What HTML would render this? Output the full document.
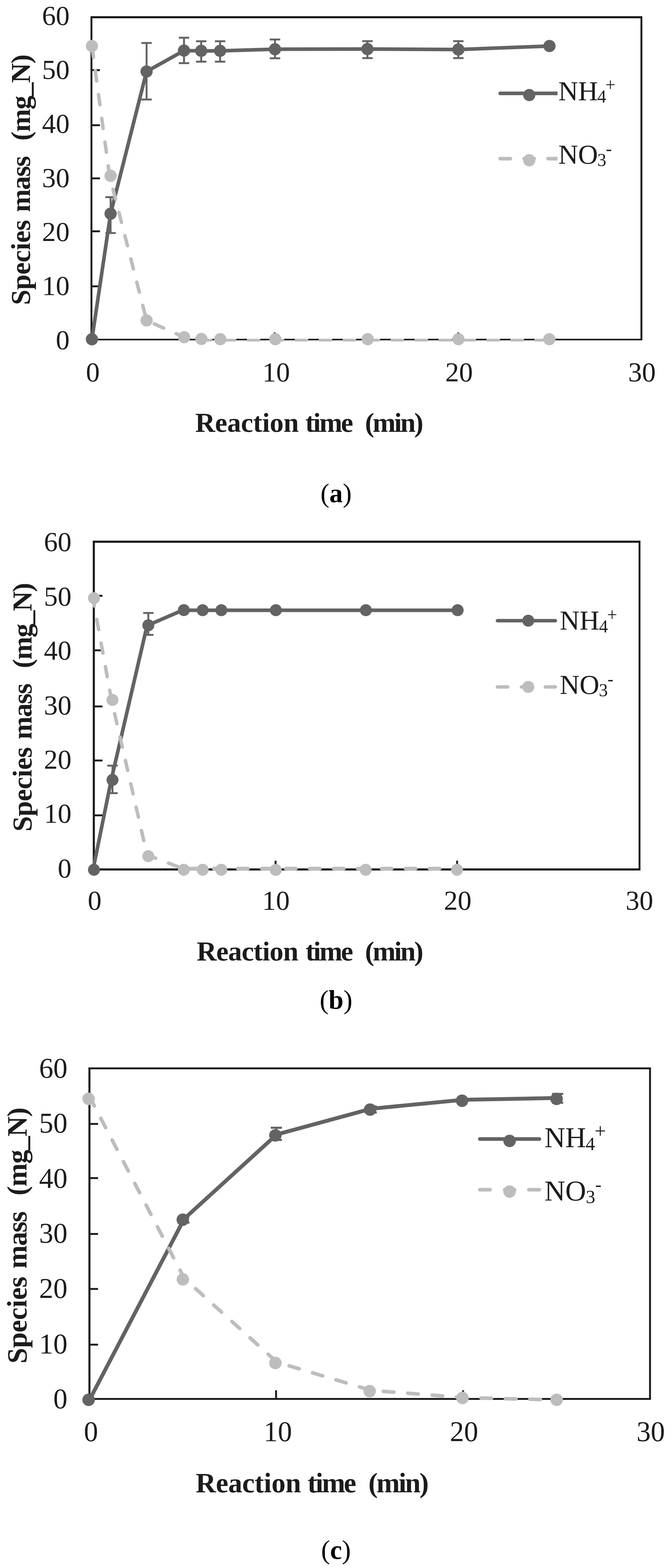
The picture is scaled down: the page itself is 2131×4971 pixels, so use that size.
<!DOCTYPE html>
<html lang="en"><head><meta charset="utf-8"><title>Species mass vs reaction time</title>
<style>html,body{margin:0;padding:0;background:#fff}svg{display:block}text{font-family:"Liberation Serif","DejaVu Serif",serif;white-space:pre}</style></head>
<body>
<svg width="2131" height="4971" viewBox="0 0 2131 4971" role="img" aria-label="Species mass versus reaction time">
<rect width="2131" height="4971" fill="#fff"/>
<g>
<line x1="287" y1="54.6" x2="2037" y2="54.6" stroke="#1c1c1c" stroke-width="6.8" stroke-linecap="butt"/>
<line x1="2034" y1="54.6" x2="2034" y2="1076.4" stroke="#1c1c1c" stroke-width="6" stroke-linecap="butt"/>
<line x1="290" y1="54.6" x2="290" y2="1076.4" stroke="#1c1c1c" stroke-width="6" stroke-linecap="butt"/>
<line x1="287" y1="1076.4" x2="2037" y2="1076.4" stroke="#1c1c1c" stroke-width="5" stroke-linecap="butt"/>
<line x1="290" y1="222.4" x2="317" y2="222.4" stroke="#1c1c1c" stroke-width="6" stroke-linecap="butt"/>
<line x1="290" y1="397" x2="317" y2="397" stroke="#1c1c1c" stroke-width="6" stroke-linecap="butt"/>
<line x1="290" y1="565.5" x2="317" y2="565.5" stroke="#1c1c1c" stroke-width="6" stroke-linecap="butt"/>
<line x1="290" y1="733.3" x2="317" y2="733.3" stroke="#1c1c1c" stroke-width="6" stroke-linecap="butt"/>
<line x1="290" y1="907.7" x2="317" y2="907.7" stroke="#1c1c1c" stroke-width="6" stroke-linecap="butt"/>
<line x1="871" y1="1076.4" x2="871" y2="1054" stroke="#1c1c1c" stroke-width="6" stroke-linecap="butt"/>
<line x1="1453" y1="1076.4" x2="1453" y2="1054" stroke="#1c1c1c" stroke-width="6" stroke-linecap="butt"/>
<text x="220.7" y="79.3" font-size="87.5" font-weight="normal" text-anchor="end" fill="#1c1c1c">60</text>
<text x="220.7" y="250.1" font-size="87.5" font-weight="normal" text-anchor="end" fill="#1c1c1c">50</text>
<text x="220.7" y="421.3" font-size="87.5" font-weight="normal" text-anchor="end" fill="#1c1c1c">40</text>
<text x="220.7" y="593.3" font-size="87.5" font-weight="normal" text-anchor="end" fill="#1c1c1c">30</text>
<text x="220.7" y="763.9" font-size="87.5" font-weight="normal" text-anchor="end" fill="#1c1c1c">20</text>
<text x="220.7" y="935.1" font-size="87.5" font-weight="normal" text-anchor="end" fill="#1c1c1c">10</text>
<text x="220.7" y="1106.9" font-size="87.5" font-weight="normal" text-anchor="end" fill="#1c1c1c">0</text>
<text x="294.3" y="1208.6" font-size="87.5" font-weight="normal" text-anchor="middle" fill="#1c1c1c">0</text>
<text x="875.7" y="1208.6" font-size="87.5" font-weight="normal" text-anchor="middle" fill="#1c1c1c">10</text>
<text x="1455.7" y="1208.6" font-size="87.5" font-weight="normal" text-anchor="middle" fill="#1c1c1c">20</text>
<text x="2035.7" y="1208.6" font-size="87.5" font-weight="normal" text-anchor="middle" fill="#1c1c1c">30</text>
<text x="618.9" y="1369.1" font-size="87.5" font-weight="bold" text-anchor="start" fill="#1c1c1c" textLength="328.8" lengthAdjust="spacing">Reaction</text>
<text x="968.2" y="1369.1" font-size="87.5" font-weight="bold" text-anchor="start" fill="#1c1c1c" textLength="151.9" lengthAdjust="spacing">time</text>
<text x="1157.4" y="1369.1" font-size="87.5" font-weight="bold" text-anchor="start" fill="#1c1c1c" textLength="185.3" lengthAdjust="spacing">(min)</text>
<g transform="translate(94.6,0) rotate(-90)">
<text x="-966.9" y="0" font-size="87.5" font-weight="bold" text-anchor="start" fill="#1c1c1c" textLength="269.7" lengthAdjust="spacing">Species</text>
<text x="-672.6" y="0" font-size="87.5" font-weight="bold" text-anchor="start" fill="#1c1c1c" textLength="178.2" lengthAdjust="spacing">mass</text>
<text x="-445.7" y="0" font-size="87.5" font-weight="bold" text-anchor="start" fill="#1c1c1c" textLength="273.3" lengthAdjust="spacing">(mg_N)</text>
</g>
<line x1="350.7" y1="624.9" x2="350.7" y2="738.7" stroke="#636363" stroke-width="6" stroke-linecap="butt"/>
<line x1="334.2" y1="624.9" x2="367.2" y2="624.9" stroke="#636363" stroke-width="6" stroke-linecap="butt"/>
<line x1="334.2" y1="738.7" x2="367.2" y2="738.7" stroke="#636363" stroke-width="6" stroke-linecap="butt"/>
<line x1="464.8" y1="136.2" x2="464.8" y2="315.5" stroke="#636363" stroke-width="6" stroke-linecap="butt"/>
<line x1="448.3" y1="136.2" x2="481.3" y2="136.2" stroke="#636363" stroke-width="6" stroke-linecap="butt"/>
<line x1="448.3" y1="315.5" x2="481.3" y2="315.5" stroke="#636363" stroke-width="6" stroke-linecap="butt"/>
<line x1="583.5" y1="119.5" x2="583.5" y2="200.3" stroke="#636363" stroke-width="6" stroke-linecap="butt"/>
<line x1="567" y1="119.5" x2="600" y2="119.5" stroke="#636363" stroke-width="6" stroke-linecap="butt"/>
<line x1="567" y1="200.3" x2="600" y2="200.3" stroke="#636363" stroke-width="6" stroke-linecap="butt"/>
<line x1="638" y1="130.7" x2="638" y2="195.6" stroke="#636363" stroke-width="6" stroke-linecap="butt"/>
<line x1="621.5" y1="130.7" x2="654.5" y2="130.7" stroke="#636363" stroke-width="6" stroke-linecap="butt"/>
<line x1="621.5" y1="195.6" x2="654.5" y2="195.6" stroke="#636363" stroke-width="6" stroke-linecap="butt"/>
<line x1="698" y1="130.7" x2="698" y2="195.6" stroke="#636363" stroke-width="6" stroke-linecap="butt"/>
<line x1="681.5" y1="130.7" x2="714.5" y2="130.7" stroke="#636363" stroke-width="6" stroke-linecap="butt"/>
<line x1="681.5" y1="195.6" x2="714.5" y2="195.6" stroke="#636363" stroke-width="6" stroke-linecap="butt"/>
<line x1="872" y1="125.3" x2="872" y2="184.7" stroke="#636363" stroke-width="6" stroke-linecap="butt"/>
<line x1="855.5" y1="125.3" x2="888.5" y2="125.3" stroke="#636363" stroke-width="6" stroke-linecap="butt"/>
<line x1="855.5" y1="184.7" x2="888.5" y2="184.7" stroke="#636363" stroke-width="6" stroke-linecap="butt"/>
<line x1="1165.2" y1="130.4" x2="1165.2" y2="184.3" stroke="#636363" stroke-width="6" stroke-linecap="butt"/>
<line x1="1148.7" y1="130.4" x2="1181.7" y2="130.4" stroke="#636363" stroke-width="6" stroke-linecap="butt"/>
<line x1="1148.7" y1="184.3" x2="1181.7" y2="184.3" stroke="#636363" stroke-width="6" stroke-linecap="butt"/>
<line x1="1453.5" y1="130.6" x2="1453.5" y2="184.3" stroke="#636363" stroke-width="6" stroke-linecap="butt"/>
<line x1="1437" y1="130.6" x2="1470" y2="130.6" stroke="#636363" stroke-width="6" stroke-linecap="butt"/>
<line x1="1437" y1="184.3" x2="1470" y2="184.3" stroke="#636363" stroke-width="6" stroke-linecap="butt"/>
<polyline points="291.5,1075.5 350.7,677.5 464.8,226.7 583.5,160.4 638,161.2 698,161.2 872,156.1 1165.2,155.5 1453.5,157 1742.4,145.9" fill="none" stroke="#636363" stroke-width="11.5" stroke-linecap="round" stroke-linejoin="round"/>
<circle cx="291.5" cy="1075.5" r="19.4" fill="#636363"/>
<circle cx="350.7" cy="677.5" r="19.4" fill="#636363"/>
<circle cx="464.8" cy="226.7" r="19.4" fill="#636363"/>
<circle cx="583.5" cy="160.4" r="19.4" fill="#636363"/>
<circle cx="638" cy="161.2" r="19.4" fill="#636363"/>
<circle cx="698" cy="161.2" r="19.4" fill="#636363"/>
<circle cx="872" cy="156.1" r="19.4" fill="#636363"/>
<circle cx="1165.2" cy="155.5" r="19.4" fill="#636363"/>
<circle cx="1453.5" cy="157" r="19.4" fill="#636363"/>
<circle cx="1742.4" cy="145.9" r="19.4" fill="#636363"/>
<polyline points="291.5,145.8 347.5,557.5 464.8,1015.9 584,1069.2 638.7,1074.6" fill="none" stroke="#bdbdbd" stroke-width="11" stroke-linecap="round" stroke-linejoin="round" stroke-dasharray="32.6 43.4" stroke-dashoffset="-3.4"/>
<polyline points="638.7,1078.4 1742,1078.4" fill="none" stroke="#bdbdbd" stroke-width="8.7" stroke-linecap="butt" stroke-linejoin="round" stroke-dasharray="42.5 33.5" stroke-dashoffset="7.8"/>
<circle cx="291.5" cy="145.8" r="19.4" fill="#bdbdbd"/>
<circle cx="350.7" cy="557.5" r="19.4" fill="#bdbdbd"/>
<circle cx="464.8" cy="1015.9" r="19.4" fill="#bdbdbd"/>
<circle cx="584" cy="1069.2" r="19.4" fill="#bdbdbd"/>
<circle cx="638.7" cy="1074.6" r="19.4" fill="#bdbdbd"/>
<circle cx="698.5" cy="1075.4" r="19.4" fill="#bdbdbd"/>
<circle cx="873" cy="1075.4" r="19.4" fill="#bdbdbd"/>
<circle cx="1166" cy="1075.4" r="19.4" fill="#bdbdbd"/>
<circle cx="1453.8" cy="1075.4" r="19.4" fill="#bdbdbd"/>
<circle cx="1742" cy="1075.4" r="19.4" fill="#bdbdbd"/>
<path d="M1586,296 H1762" stroke="#636363" stroke-width="11.5" fill="none" stroke-linecap="round"/>
<line x1="1756" y1="296" x2="1768" y2="296" stroke="#636363" stroke-width="11.5" stroke-linecap="butt"/>
<circle cx="1678.3" cy="301.4" r="19.4" fill="#636363"/>
<text x="1770.5" y="317.8" font-size="87" fill="#1c1c1c">NH<tspan x="1894" y="325" font-size="57">4</tspan><tspan x="1919.5" y="287.5" font-size="57">+</tspan></text>
<line x1="1586" y1="503" x2="1618.5" y2="503" stroke="#bdbdbd" stroke-width="11.5" stroke-linecap="round"/>
<line x1="1662" y1="503" x2="1694" y2="503" stroke="#bdbdbd" stroke-width="11.5" stroke-linecap="round"/>
<line x1="1738" y1="503" x2="1762" y2="503" stroke="#bdbdbd" stroke-width="11.5" stroke-linecap="round"/>
<line x1="1756" y1="503" x2="1768" y2="503" stroke="#bdbdbd" stroke-width="11.5" stroke-linecap="butt"/>
<circle cx="1678.3" cy="508" r="19.4" fill="#bdbdbd"/>
<text x="1770.5" y="518.6" font-size="87" fill="#1c1c1c">NO<tspan x="1894.3" y="526.3" font-size="57">3</tspan><tspan x="1921.3" y="489.6" font-size="57">-</tspan></text>
<text x="1065.8" y="1591.5" font-size="85" fill="#000" text-anchor="middle">(<tspan font-weight="bold">a</tspan>)</text>
</g>
<g>
<line x1="294.1" y1="1717.4" x2="2031" y2="1717.4" stroke="#1c1c1c" stroke-width="6.7" stroke-linecap="butt"/>
<line x1="2028" y1="1717.4" x2="2028" y2="2756.4" stroke="#1c1c1c" stroke-width="6" stroke-linecap="butt"/>
<line x1="297.5" y1="1717.4" x2="297.5" y2="2756.4" stroke="#1c1c1c" stroke-width="6.7" stroke-linecap="butt"/>
<line x1="294.1" y1="2756.4" x2="2031" y2="2756.4" stroke="#1c1c1c" stroke-width="6.7" stroke-linecap="butt"/>
<line x1="297.5" y1="1888.9" x2="325" y2="1888.9" stroke="#1c1c1c" stroke-width="6" stroke-linecap="butt"/>
<line x1="297.5" y1="2061.7" x2="325" y2="2061.7" stroke="#1c1c1c" stroke-width="6" stroke-linecap="butt"/>
<line x1="297.5" y1="2239.6" x2="325" y2="2239.6" stroke="#1c1c1c" stroke-width="6" stroke-linecap="butt"/>
<line x1="297.5" y1="2411" x2="325" y2="2411" stroke="#1c1c1c" stroke-width="6" stroke-linecap="butt"/>
<line x1="297.5" y1="2584.9" x2="325" y2="2584.9" stroke="#1c1c1c" stroke-width="6" stroke-linecap="butt"/>
<line x1="873.9" y1="2756.4" x2="873.9" y2="2728.7" stroke="#1c1c1c" stroke-width="6" stroke-linecap="butt"/>
<line x1="1449.5" y1="2756.4" x2="1449.5" y2="2728.7" stroke="#1c1c1c" stroke-width="6" stroke-linecap="butt"/>
<text x="226.7" y="1746.8" font-size="87.5" font-weight="normal" text-anchor="end" fill="#1c1c1c">60</text>
<text x="226.7" y="1919.7" font-size="87.5" font-weight="normal" text-anchor="end" fill="#1c1c1c">50</text>
<text x="226.7" y="2091" font-size="87.5" font-weight="normal" text-anchor="end" fill="#1c1c1c">40</text>
<text x="226.7" y="2264.7" font-size="87.5" font-weight="normal" text-anchor="end" fill="#1c1c1c">30</text>
<text x="226.7" y="2437.4" font-size="87.5" font-weight="normal" text-anchor="end" fill="#1c1c1c">20</text>
<text x="226.7" y="2608.3" font-size="87.5" font-weight="normal" text-anchor="end" fill="#1c1c1c">10</text>
<text x="226.7" y="2782.2" font-size="87.5" font-weight="normal" text-anchor="end" fill="#1c1c1c">0</text>
<text x="300" y="2883.5" font-size="87.5" font-weight="normal" text-anchor="middle" fill="#1c1c1c">0</text>
<text x="875" y="2883.5" font-size="87.5" font-weight="normal" text-anchor="middle" fill="#1c1c1c">10</text>
<text x="1451.4" y="2883.5" font-size="87.5" font-weight="normal" text-anchor="middle" fill="#1c1c1c">20</text>
<text x="2027.8" y="2883.5" font-size="87.5" font-weight="normal" text-anchor="middle" fill="#1c1c1c">30</text>
<text x="623.7" y="3045" font-size="87.5" font-weight="bold" text-anchor="start" fill="#1c1c1c" textLength="322.7" lengthAdjust="spacing">Reaction</text>
<text x="969.1" y="3045" font-size="87.5" font-weight="bold" text-anchor="start" fill="#1c1c1c" textLength="151" lengthAdjust="spacing">time</text>
<text x="1157.4" y="3045" font-size="87.5" font-weight="bold" text-anchor="start" fill="#1c1c1c" textLength="185.3" lengthAdjust="spacing">(min)</text>
<g transform="translate(100,0) rotate(-90)">
<text x="-2636.2" y="0" font-size="87.5" font-weight="bold" text-anchor="start" fill="#1c1c1c" textLength="267.8" lengthAdjust="spacing">Species</text>
<text x="-2344" y="0" font-size="87.5" font-weight="bold" text-anchor="start" fill="#1c1c1c" textLength="177.6" lengthAdjust="spacing">mass</text>
<text x="-2118.2" y="0" font-size="87.5" font-weight="bold" text-anchor="start" fill="#1c1c1c" textLength="270.7" lengthAdjust="spacing">(mg_N)</text>
</g>
<line x1="356.7" y1="2427.3" x2="356.7" y2="2514.6" stroke="#636363" stroke-width="6" stroke-linecap="butt"/>
<line x1="340.2" y1="2427.3" x2="373.2" y2="2427.3" stroke="#636363" stroke-width="6" stroke-linecap="butt"/>
<line x1="340.2" y1="2514.6" x2="373.2" y2="2514.6" stroke="#636363" stroke-width="6" stroke-linecap="butt"/>
<line x1="470.4" y1="1943.3" x2="470.4" y2="2012.8" stroke="#636363" stroke-width="6" stroke-linecap="butt"/>
<line x1="453.9" y1="1943.3" x2="486.9" y2="1943.3" stroke="#636363" stroke-width="6" stroke-linecap="butt"/>
<line x1="453.9" y1="2012.8" x2="486.9" y2="2012.8" stroke="#636363" stroke-width="6" stroke-linecap="butt"/>
<polyline points="295,2757.4 352.7,2472.6 466.4,1983.2 579,1934.8 1451.2,1934.8" fill="none" stroke="#636363" stroke-width="11.5" stroke-linecap="round" stroke-linejoin="round"/>
<circle cx="298" cy="2757.4" r="19" fill="#636363"/>
<circle cx="356.7" cy="2472.6" r="19" fill="#636363"/>
<circle cx="470.4" cy="1982.4" r="19" fill="#636363"/>
<circle cx="583" cy="1934.2" r="19" fill="#636363"/>
<circle cx="642.6" cy="1934.5" r="19" fill="#636363"/>
<circle cx="701.9" cy="1934.5" r="19" fill="#636363"/>
<circle cx="874.8" cy="1934.5" r="19" fill="#636363"/>
<circle cx="1160.2" cy="1934.5" r="19" fill="#636363"/>
<circle cx="1451.2" cy="1934.5" r="19" fill="#636363"/>
<polyline points="294,1892.2 352.7,2215 466.4,2710.3 578.8,2753.4" fill="none" stroke="#bdbdbd" stroke-width="11" stroke-linecap="round" stroke-linejoin="round" stroke-dasharray="32.6 43.4" stroke-dashoffset="3.1"/>
<polyline points="582.8,2753.8 1449.4,2753.8" fill="none" stroke="#bdbdbd" stroke-width="12" stroke-linecap="round" stroke-linejoin="round" stroke-dasharray="31.8 44.2" stroke-dashoffset="-19.4"/>
<circle cx="298" cy="1896.2" r="19" fill="#bdbdbd"/>
<circle cx="356.7" cy="2219" r="19" fill="#bdbdbd"/>
<circle cx="470.4" cy="2714.3" r="19" fill="#bdbdbd"/>
<circle cx="582.8" cy="2757.4" r="19" fill="#bdbdbd"/>
<circle cx="642.7" cy="2757.4" r="19" fill="#bdbdbd"/>
<circle cx="701.7" cy="2757.4" r="19" fill="#bdbdbd"/>
<circle cx="874.5" cy="2757.9" r="19" fill="#bdbdbd"/>
<circle cx="1159.5" cy="2757.4" r="19" fill="#bdbdbd"/>
<circle cx="1449.4" cy="2757.4" r="19" fill="#bdbdbd"/>
<path d="M1577.5,1967.8 H1761" stroke="#636363" stroke-width="11" fill="none" stroke-linecap="round"/>
<circle cx="1675.2" cy="1967.8" r="19" fill="#636363"/>
<text x="1775" y="1996" font-size="87" fill="#1c1c1c">NH<tspan x="1899.5" y="2005" font-size="57">4</tspan><tspan x="1925" y="1967.6" font-size="57">+</tspan></text>
<line x1="1577.5" y1="2177.8" x2="1610" y2="2177.8" stroke="#bdbdbd" stroke-width="11" stroke-linecap="round"/>
<line x1="1653.5" y1="2177.8" x2="1686" y2="2177.8" stroke="#bdbdbd" stroke-width="11" stroke-linecap="round"/>
<line x1="1729.5" y1="2177.8" x2="1761" y2="2177.8" stroke="#bdbdbd" stroke-width="11" stroke-linecap="round"/>
<circle cx="1675.2" cy="2177.8" r="19" fill="#bdbdbd"/>
<text x="1775" y="2199.9" font-size="87" fill="#1c1c1c">NO<tspan x="1899" y="2207.2" font-size="57">3</tspan><tspan x="1926.4" y="2170.9" font-size="57">-</tspan></text>
<text x="1065.6" y="3198.2" font-size="85" fill="#000" text-anchor="middle">(<tspan font-weight="bold">b</tspan>)</text>
</g>
<g>
<line x1="280.4" y1="3387" x2="2064.3" y2="3387" stroke="#1c1c1c" stroke-width="6" stroke-linecap="butt"/>
<line x1="2061.3" y1="3387" x2="2061.3" y2="4435" stroke="#1c1c1c" stroke-width="6" stroke-linecap="butt"/>
<line x1="283.6" y1="3387" x2="283.6" y2="4435" stroke="#1c1c1c" stroke-width="6.5" stroke-linecap="butt"/>
<line x1="280.4" y1="4435" x2="2064.3" y2="4435" stroke="#1c1c1c" stroke-width="6" stroke-linecap="butt"/>
<line x1="283.6" y1="3563.2" x2="311" y2="3563.2" stroke="#1c1c1c" stroke-width="6" stroke-linecap="butt"/>
<line x1="283.6" y1="3734.9" x2="311" y2="3734.9" stroke="#1c1c1c" stroke-width="6" stroke-linecap="butt"/>
<line x1="283.6" y1="3912" x2="311" y2="3912" stroke="#1c1c1c" stroke-width="6" stroke-linecap="butt"/>
<line x1="283.6" y1="4086.3" x2="311" y2="4086.3" stroke="#1c1c1c" stroke-width="6" stroke-linecap="butt"/>
<line x1="283.6" y1="4262.9" x2="311" y2="4262.9" stroke="#1c1c1c" stroke-width="6" stroke-linecap="butt"/>
<line x1="875.5" y1="4435" x2="875.5" y2="4407.5" stroke="#1c1c1c" stroke-width="6" stroke-linecap="butt"/>
<line x1="1468.5" y1="4435" x2="1468.5" y2="4407.5" stroke="#1c1c1c" stroke-width="6" stroke-linecap="butt"/>
<text x="214" y="3417.3" font-size="90" font-weight="normal" text-anchor="end" fill="#1c1c1c">60</text>
<text x="214" y="3591.4" font-size="90" font-weight="normal" text-anchor="end" fill="#1c1c1c">50</text>
<text x="214" y="3766.2" font-size="90" font-weight="normal" text-anchor="end" fill="#1c1c1c">40</text>
<text x="214" y="3939.7" font-size="90" font-weight="normal" text-anchor="end" fill="#1c1c1c">30</text>
<text x="214" y="4115.1" font-size="90" font-weight="normal" text-anchor="end" fill="#1c1c1c">20</text>
<text x="214" y="4290.9" font-size="90" font-weight="normal" text-anchor="end" fill="#1c1c1c">10</text>
<text x="214" y="4465.1" font-size="90" font-weight="normal" text-anchor="end" fill="#1c1c1c">0</text>
<text x="288.5" y="4569.3" font-size="90" font-weight="normal" text-anchor="middle" fill="#1c1c1c">0</text>
<text x="881" y="4569.3" font-size="90" font-weight="normal" text-anchor="middle" fill="#1c1c1c">10</text>
<text x="1471.6" y="4569.3" font-size="90" font-weight="normal" text-anchor="middle" fill="#1c1c1c">20</text>
<text x="2063.6" y="4569.3" font-size="90" font-weight="normal" text-anchor="middle" fill="#1c1c1c">30</text>
<text x="620.5" y="4730.6" font-size="89" font-weight="bold" text-anchor="start" fill="#1c1c1c" textLength="334.3" lengthAdjust="spacing">Reaction</text>
<text x="975.3" y="4730.6" font-size="89" font-weight="bold" text-anchor="start" fill="#1c1c1c" textLength="154.5" lengthAdjust="spacing">time</text>
<text x="1168.2" y="4730.6" font-size="89" font-weight="bold" text-anchor="start" fill="#1c1c1c" textLength="191.5" lengthAdjust="spacing">(min)</text>
<g transform="translate(83.7,0) rotate(-90)">
<text x="-4322.7" y="0" font-size="89" font-weight="bold" text-anchor="start" fill="#1c1c1c" textLength="275.6" lengthAdjust="spacing">Species</text>
<text x="-4022" y="0" font-size="89" font-weight="bold" text-anchor="start" fill="#1c1c1c" textLength="182" lengthAdjust="spacing">mass</text>
<text x="-3790.1" y="0" font-size="89" font-weight="bold" text-anchor="start" fill="#1c1c1c" textLength="279.2" lengthAdjust="spacing">(mg_N)</text>
</g>
<line x1="583" y1="3858" x2="583" y2="3876" stroke="#636363" stroke-width="6.5" stroke-linecap="butt"/>
<line x1="565.3" y1="3858" x2="600.7" y2="3858" stroke="#636363" stroke-width="6.5" stroke-linecap="butt"/>
<line x1="565.3" y1="3876" x2="600.7" y2="3876" stroke="#636363" stroke-width="6.5" stroke-linecap="butt"/>
<line x1="876.4" y1="3575.3" x2="876.4" y2="3614" stroke="#636363" stroke-width="6.5" stroke-linecap="butt"/>
<line x1="858.7" y1="3575.3" x2="894.1" y2="3575.3" stroke="#636363" stroke-width="6.5" stroke-linecap="butt"/>
<line x1="858.7" y1="3614" x2="894.1" y2="3614" stroke="#636363" stroke-width="6.5" stroke-linecap="butt"/>
<line x1="1177" y1="3508" x2="1177" y2="3527" stroke="#636363" stroke-width="6.5" stroke-linecap="butt"/>
<line x1="1159.3" y1="3508" x2="1194.7" y2="3508" stroke="#636363" stroke-width="6.5" stroke-linecap="butt"/>
<line x1="1159.3" y1="3527" x2="1194.7" y2="3527" stroke="#636363" stroke-width="6.5" stroke-linecap="butt"/>
<line x1="1768.3" y1="3468" x2="1768.3" y2="3496" stroke="#636363" stroke-width="6.5" stroke-linecap="butt"/>
<line x1="1750.6" y1="3468" x2="1786" y2="3468" stroke="#636363" stroke-width="6.5" stroke-linecap="butt"/>
<line x1="1750.6" y1="3496" x2="1786" y2="3496" stroke="#636363" stroke-width="6.5" stroke-linecap="butt"/>
<polyline points="285.5,4434.8 584.2,3863.8 877.7,3596.5 1178.1,3514.8 1469.8,3486.6 1769.5,3480.8" fill="none" stroke="#636363" stroke-width="12.3" stroke-linecap="round" stroke-linejoin="round"/>
<circle cx="281" cy="4437.8" r="19.8" fill="#636363"/>
<circle cx="579.7" cy="3866.8" r="19.8" fill="#636363"/>
<circle cx="873.2" cy="3599.5" r="19.8" fill="#636363"/>
<circle cx="1173.6" cy="3517.8" r="19.8" fill="#636363"/>
<circle cx="1465.3" cy="3489.6" r="19.8" fill="#636363"/>
<circle cx="1765" cy="3483.8" r="19.8" fill="#636363"/>
<polyline points="286,3481 584.9,4053.5 878.3,4318.5 1177.2,4407.9 1471.6,4431 1770.2,4438.2" fill="none" stroke="#bdbdbd" stroke-width="11.5" stroke-linecap="round" stroke-linejoin="round" stroke-dasharray="33.3 44.3" stroke-dashoffset="5"/>
<circle cx="281" cy="3483.5" r="19.8" fill="#bdbdbd"/>
<circle cx="579.9" cy="4056" r="19.8" fill="#bdbdbd"/>
<circle cx="873.3" cy="4321" r="19.8" fill="#bdbdbd"/>
<circle cx="1172.2" cy="4410.4" r="19.8" fill="#bdbdbd"/>
<circle cx="1466.6" cy="4431.9" r="19.8" fill="#bdbdbd"/>
<circle cx="1765.2" cy="4437.7" r="19.8" fill="#bdbdbd"/>
<path d="M1521.5,3610.9 H1710.5" stroke="#636363" stroke-width="11.5" fill="none" stroke-linecap="round"/>
<circle cx="1616" cy="3617" r="19.8" fill="#636363"/>
<text x="1726.5" y="3636.9" font-size="91.5" fill="#1c1c1c">NH<tspan x="1857" y="3646" font-size="60">4</tspan><tspan x="1885.3" y="3606.9" font-size="65">+</tspan></text>
<line x1="1521.5" y1="3771.7" x2="1554" y2="3771.7" stroke="#bdbdbd" stroke-width="11.5" stroke-linecap="round"/>
<line x1="1600" y1="3771.7" x2="1632" y2="3771.7" stroke="#bdbdbd" stroke-width="11.5" stroke-linecap="round"/>
<line x1="1677" y1="3771.7" x2="1710.5" y2="3771.7" stroke="#bdbdbd" stroke-width="11.5" stroke-linecap="round"/>
<circle cx="1616" cy="3777.5" r="19.8" fill="#bdbdbd"/>
<text x="1726.5" y="3806" font-size="91.5" fill="#1c1c1c">NO<tspan x="1857.8" y="3814.2" font-size="60">3</tspan><tspan x="1887.6" y="3775.3" font-size="60">-</tspan></text>
<text x="1065.5" y="4942.3" font-size="85" fill="#000" text-anchor="middle">(<tspan font-weight="bold">c</tspan>)</text>
</g>
</svg></body></html>
